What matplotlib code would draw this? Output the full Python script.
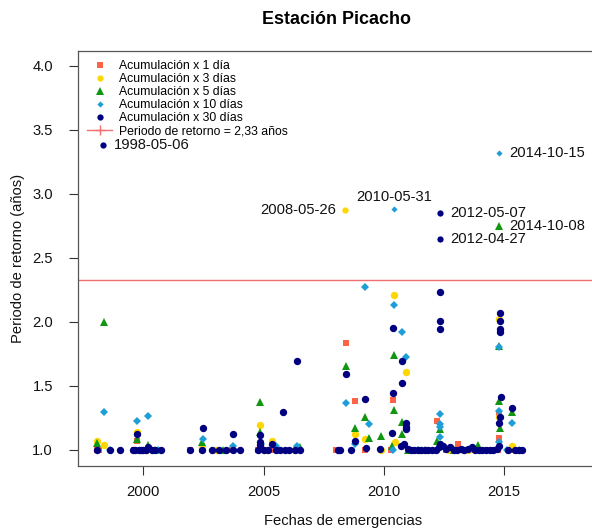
import matplotlib
matplotlib.use("Agg")
import matplotlib.pyplot as plt
from matplotlib.lines import Line2D
import pandas as pd

plt.rcParams['font.family'] = ['Liberation Sans', 'DejaVu Sans']

# umbral del periodo de retorno
umbral = 2.33

# eventos por encima del umbral (fecha, periodo, serie, posicion de la etiqueta)
ev_fechas = ['1998-05-06', '2008-05-26', '2010-05-31', '2012-04-27',
             '2012-05-07', '2014-10-08', '2014-10-15']
ev_valores = [3.383, 2.874, 2.881, 2.647, 2.853, 2.751, 3.321]
ev_serie = ['a30', 'a3', 'a10', 'a30', 'a30', 'a5', 'a10']
ev_pos = ['der', 'izq', 'arr', 'der', 'der', 'der', 'der']

# acumulacion x 1 dia
a1_x = [1998.08, 1998.14, 1999.60, 1999.72, 1999.90, 2000.30, 2000.60, 2001.95,
        2002.45, 2003.70, 2004.75, 2004.87, 2005.00, 2005.35, 2008.00, 2008.43,
        2008.78, 2009.20, 2010.30, 2010.38, 2011.20, 2011.80, 2012.22, 2012.60,
        2013.10, 2013.60, 2014.30, 2014.75, 2014.78, 2014.80, 2015.40]
a1_y = [1.0, 1.0, 1.0, 1.07, 1.0, 1.0, 1.0, 1.0,
        1.0, 1.0, 1.0, 1.0, 1.0, 1.0, 1.0, 1.838,
        1.385, 1.0, 1.0, 1.39, 1.0, 1.0, 1.229, 1.0,
        1.047, 1.0, 1.0, 1.0, 1.09, 1.273, 1.0]

# acumulacion x 3 dias
a3_x = [1998.08, 1998.37, 1999.72, 2000.10, 2002.45, 2003.00, 2004.87, 2005.00,
        2005.35, 2006.30, 2008.82, 2009.23, 2009.90, 2010.42, 2010.45, 2010.90,
        2011.50, 2012.70, 2013.50, 2014.78, 2014.80, 2015.34]
a3_y = [1.073, 1.037, 1.143, 1.0, 1.02, 1.0, 1.198, 1.0,
        1.073, 1.0, 1.125, 1.085, 1.0, 2.213, 1.06, 1.61,
        1.0, 1.0, 1.0, 1.26, 2.025, 1.034]

# acumulacion x 5 dias
a5_x = [1998.08, 1998.35, 1999.72, 2000.18, 2000.50, 2002.45, 2003.30, 2004.87,
        2004.87, 2006.50, 2008.43, 2008.82, 2009.23, 2009.37, 2009.87, 2010.35,
        2010.42, 2010.42, 2010.76, 2010.76, 2011.00, 2011.70, 2012.22, 2012.34,
        2012.90, 2013.93, 2014.78, 2014.80, 2014.82, 2015.34, 2015.60]
a5_y = [1.055, 2.00, 1.083, 1.04, 1.0, 1.06, 1.0, 1.372,
        1.143, 1.02, 1.656, 1.174, 1.26, 1.096, 1.109, 1.034,
        1.744, 1.312, 1.216, 1.125, 1.0, 1.0, 1.073, 1.164,
        1.0, 1.04, 1.385, 1.815, 1.172, 1.294, 1.0]

# acumulacion x 10 dias
a10_x = [1998.35, 1998.62, 1999.72, 2000.18, 2000.60, 2002.48, 2003.73, 2004.90,
         2005.50, 2006.40, 2008.43, 2008.82, 2009.23, 2009.37, 2010.38, 2010.42,
         2010.76, 2010.90, 2011.40, 2012.34, 2012.34, 2012.34, 2012.34, 2013.30,
         2014.78, 2014.78, 2014.80, 2015.10, 2015.34]
a10_y = [1.30, 1.0, 1.23, 1.265, 1.0, 1.083, 1.03, 1.05,
         1.03, 1.03, 1.367, 1.05, 2.27, 1.20, 1.0, 2.13,
         1.924, 1.726, 1.0, 1.279, 1.203, 1.182, 1.104, 1.0,
         1.80, 1.307, 1.06, 1.0, 1.213]

# acumulacion x 30 dias
a30_x = [1998.08, 1998.62, 1999.03, 1999.55, 1999.65, 1999.72, 1999.80, 1999.90,
         2000.00, 2000.10, 2000.20, 2000.35, 2000.50, 2000.75,
         2001.94, 2002.43, 2002.48, 2002.85, 2003.15, 2003.45, 2003.73, 2003.73,
         2004.00,
         2004.78, 2004.87, 2004.87, 2004.87, 2005.00, 2005.20, 2005.35, 2005.50,
         2005.70, 2005.82, 2005.90, 2006.05, 2006.30, 2006.40, 2006.50,
         2008.10, 2008.18, 2008.43, 2008.64, 2008.82, 2009.23, 2009.25, 2009.86,
         2010.35, 2010.40, 2010.40, 2010.76, 2010.76, 2010.85, 2010.90, 2010.90,
         2010.90,
         2010.70, 2011.00, 2011.12, 2011.25, 2011.40, 2011.55, 2011.70, 2011.85,
         2012.00, 2012.15, 2012.30, 2012.34, 2012.34, 2012.34, 2012.34, 2012.45,
         2012.60, 2012.75, 2012.90, 2013.05, 2013.20, 2013.35, 2013.50, 2013.65,
         2013.80, 2013.95, 2014.10, 2014.25, 2014.40, 2014.55, 2014.70, 2014.78,
         2014.80, 2014.83, 2014.83, 2014.83, 2014.83, 2014.85, 2014.87,
         2015.15, 2015.34, 2015.45, 2015.60, 2015.76]
a30_y = [1.0, 1.0, 1.0, 1.0, 1.0, 1.125, 1.0, 1.0,
         1.0, 1.0, 1.02, 1.0, 1.0, 1.0,
         1.0, 1.0, 1.17, 1.0, 1.0, 1.0, 1.0, 1.125,
         1.0,
         1.0, 1.12, 1.06, 1.04, 1.0, 1.0, 1.05, 1.0,
         1.0, 1.30, 1.0, 1.0, 1.0, 1.695, 1.0,
         1.0, 1.0, 1.596, 1.0, 1.07, 1.40, 1.013, 1.01,
         1.135, 1.955, 1.445, 1.695, 1.523, 1.05, 1.21, 1.18,
         1.16,
         1.03, 1.01, 1.0, 1.0, 1.0, 1.0, 1.0, 1.0,
         1.0, 1.0, 1.02, 2.236, 2.007, 1.942, 1.044, 1.03,
         1.01, 1.02, 1.0, 1.0, 1.01, 1.0, 1.01, 1.02,
         1.0, 1.0, 1.0, 1.0, 1.0, 1.0, 1.01, 1.03,
         1.208, 2.067, 2.004, 1.942, 1.924, 1.255, 1.41,
         1.0, 1.325, 1.0, 1.0, 1.0]

series = {
    'a1': dict(x=a1_x, y=a1_y, m='s', ms=4.9, c='#FF6347', lab='Acumulación x 1 día'),
    'a3': dict(x=a3_x, y=a3_y, m='o', ms=5.3, c='#FFD700', lab='Acumulación x 3 días'),
    'a5': dict(x=a5_x, y=a5_y, m='^', ms=6.0, c='#109610', lab='Acumulación x 5 días'),
    'a10': dict(x=a10_x, y=a10_y, m='D', ms=3.7, c='#1E9ED6', lab='Acumulación x 10 días'),
    'a30': dict(x=a30_x, y=a30_y, m='o', ms=5.3, c='#000080', lab='Acumulación x 30 días'),
}


def anio_decimal(fecha):
    t = pd.Timestamp(fecha)
    dias = 366 if t.is_leap_year else 365
    return t.year + (t.dayofyear - 1) / dias


fig = plt.figure(figsize=(5.92, 5.29), dpi=100)
ax = fig.add_axes([77.7 / 592, 63 / 529, 530 / 592, 415.5 / 529])

for k, s in series.items():
    ax.plot(s['x'], s['y'], linestyle='none', marker=s['m'], markersize=s['ms'],
            color=s['c'], markeredgewidth=0)

ax.axhline(umbral, color='#F07070', linewidth=1.0)

# eventos etiquetados con su fecha
for f, v, k, p in zip(ev_fechas, ev_valores, ev_serie, ev_pos):
    s = series[k]
    x = anio_decimal(f)
    ax.plot([x], [v], linestyle='none', marker=s['m'], markersize=s['ms'] * 0.85,
            color=s['c'], markeredgewidth=0)
    if p == 'der':
        off, ha, va = (7.5, 0), 'left', 'center'
    elif p == 'izq':
        off, ha, va = (-6.3, 0), 'right', 'center'
    else:
        off, ha, va = (0, 8.9), 'center', 'center'
    ax.annotate(f, (x, v), xytext=off, textcoords='offset points',
                ha=ha, va=va, fontsize=10.6, color='#111111')

# 530 px de ancho a 24.05 px por anio
ax.set_xlim(1997.27, 1997.27 + 530 / 24.05)
ax.set_ylim(0.875, 4.118)
ax.set_xticks([2000, 2005, 2010, 2015])
ax.set_xticklabels(['2000', '2005', '2010', '2015'])
ax.set_yticks([1.0, 1.5, 2.0, 2.5, 3.0, 3.5, 4.0])
ax.set_yticklabels(['1.0', '1.5', '2.0', '2.5', '3.0', '3.5', '4.0'])
ax.tick_params(axis='both', length=6.7, width=0.8, labelsize=10.6,
               color='#333333', labelcolor='#111111')
ax.tick_params(axis='y', pad=11)
ax.tick_params(axis='x', pad=7)
for sp in ax.spines.values():
    sp.set_color('#555555')
    sp.set_linewidth(0.9)
ax.spines['right'].set_visible(False)

ax.set_xlabel('Fechas de emergencias', fontsize=10.6, labelpad=11, color='#111111')
ax.set_ylabel('Periodo de retorno (años)', fontsize=10.6, labelpad=5, color='#111111')
fig.text(336 / 592, 1 - 19 / 529, 'Estación Picacho', ha='center', va='center',
         fontsize=12.9, fontweight='bold')

handles = [Line2D([], [], linestyle='none', marker=s['m'], markersize=s['ms'] * 0.85,
                  color=s['c'], markeredgewidth=0, label=s['lab'])
           for s in series.values()]
handles.append(Line2D([], [], color='#F07070', linewidth=1.0, marker='+',
                      markersize=7, label='Periodo de retorno = 2,33 años'))
ax.legend(handles=handles, loc='upper left', frameon=False, fontsize=8.8,
          labelspacing=0.08, handlelength=2.0, handletextpad=0.6,
          borderpad=0, borderaxespad=0.8)

fig.savefig('out.png', dpi=100)
